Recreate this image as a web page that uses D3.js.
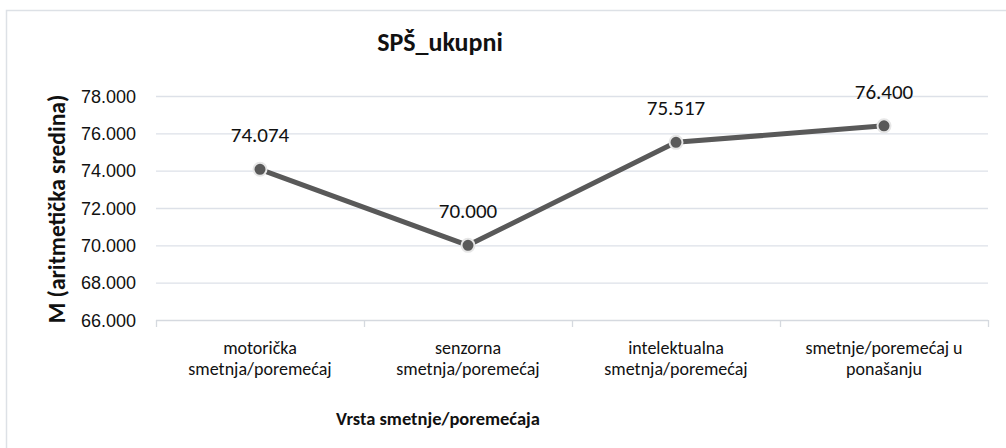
<!DOCTYPE html>
<html>
<head>
<meta charset="utf-8">
<script src="https://cdn.jsdelivr.net/npm/d3@7"></script>
<style>
  body { margin: 0; background: #fff; }
  svg { display: block; font-family: Carlito, Lato, "Open Sans", sans-serif; }
</style>
</head>
<body>
<svg id="chart" width="1006" height="448"></svg>
<script>
// chart data
var categories = ["motorička smetnja/poremećaj", "senzorna smetnja/poremećaj", "intelektualna smetnja/poremećaj", "smetnje/poremećaj u ponašanju"];
// how the x labels wrap in the picture
var categoryLines = [["motorička", "smetnja/poremećaj"], ["senzorna", "smetnja/poremećaj"], ["intelektualna", "smetnja/poremećaj"], ["smetnje/poremećaj u", "ponašanju"]];
var values = [74.074, 70.000, 75.517, 76.400];
var yTicks = [66, 68, 70, 72, 74, 76, 78];

var chartTitle = "SPŠ_ukupni";
var xTitle = "Vrsta smetnje/poremećaja";
var yTitle = "M (aritmetička sredina)";

var svg = d3.select("#chart");

// outer frame
svg.append("rect")
    .attr("x", 6.5).attr("y", 10.5)
    .attr("width", 1010).attr("height", 440)
    .attr("fill", "none")
    .attr("stroke", "#dde1e6")
    .attr("stroke-width", 1.5);

// plot area edges (named so they don't clash with window.top)
var plotLeft = 156, plotRight = 988, plotTop = 96, plotBottom = 320;

var x = d3.scaleBand().domain(categories).range([plotLeft, plotRight]);
var y = d3.scaleLinear().domain([66, 78]).range([plotBottom, plotTop]);

// gridlines
svg.append("g")
    .selectAll("line")
    .data(yTicks.slice(1))
    .enter()
    .append("line")
    .attr("x1", plotLeft).attr("x2", plotRight)
    .attr("y1", function (d) { return y(d) + 0.5; })
    .attr("y2", function (d) { return y(d) + 0.5; })
    .attr("stroke", "#dde1e8")
    .attr("stroke-width", 1.3);

// y axis labels
var yAxis = d3.axisLeft(y).tickValues(yTicks).tickSize(0).tickPadding(20).tickFormat(d3.format(".3f"));
var yg = svg.append("g").attr("transform", "translate(" + plotLeft + ",0)").call(yAxis);
yg.select(".domain").remove();
yg.selectAll("text").attr("font-size", 18).attr("font-family", null).attr("fill", "#111").attr("dy", "0.35em");

// x axis line with ticks on band edges
svg.append("line")
    .attr("x1", plotLeft).attr("x2", plotRight)
    .attr("y1", plotBottom + 0.5).attr("y2", plotBottom + 0.5)
    .attr("stroke", "#d5d9df").attr("stroke-width", 1.3);
var edges = categories.map(function (c) { return x(c); }).concat([plotRight]);
svg.append("g").selectAll("line")
    .data(edges)
    .enter()
    .append("line")
    .attr("x1", function (d) { return d + 0.5; })
    .attr("x2", function (d) { return d + 0.5; })
    .attr("y1", plotBottom).attr("y2", plotBottom + 7)
    .attr("stroke", "#d5d9df").attr("stroke-width", 1.3);

// x labels, two lines each
var xl = svg.append("g").selectAll("text")
    .data(categories)
    .enter()
    .append("text")
    .attr("text-anchor", "middle")
    .attr("font-size", 18)
    .attr("fill", "#111")
    .attr("x", function (d) { return x(d) + x.bandwidth() / 2; })
    .attr("y", 354);
xl.each(function (d, i) {
    var t = d3.select(this);
    categoryLines[i].forEach(function (line, k) {
        t.append("tspan")
            .attr("x", x(d) + x.bandwidth() / 2)
            .attr("dy", k === 0 ? 0 : 20.5)
            .text(line);
    });
});

// line
var line = d3.line()
    .x(function (d, i) { return x(categories[i]) + x.bandwidth() / 2; })
    .y(function (d) { return y(d); });

svg.append("path")
    .datum(values)
    .attr("d", line)
    .attr("fill", "none")
    .attr("stroke", "#595959")
    .attr("stroke-width", 5)
    .attr("stroke-linejoin", "round");

// markers
svg.append("g").selectAll("circle")
    .data(values)
    .enter()
    .append("circle")
    .attr("cx", function (d, i) { return x(categories[i]) + x.bandwidth() / 2; })
    .attr("cy", function (d) { return y(d); })
    .attr("r", 6.5)
    .attr("fill", "#595959")
    .attr("stroke", "#e6e6e6")
    .attr("stroke-width", 2);

// data labels
svg.append("g").selectAll("text")
    .data(values)
    .enter()
    .append("text")
    .attr("text-anchor", "middle")
    .attr("font-size", 21)
    .attr("fill", "#111")
    .attr("x", function (d, i) { return x(categories[i]) + x.bandwidth() / 2; })
    .attr("y", function (d) { return y(d) - 27; })
    .text(function (d) { return d3.format(".3f")(d); });

// titles
svg.append("text")
    .attr("x", 440).attr("y", 51)
    .attr("text-anchor", "middle")
    .attr("font-size", 26)
    .attr("font-weight", "bold")
    .attr("fill", "#111")
    .text(chartTitle);

svg.append("text")
    .attr("x", 438).attr("y", 425)
    .attr("text-anchor", "middle")
    .attr("font-size", 18.5)
    .attr("font-weight", "bold")
    .attr("fill", "#111")
    .text(xTitle);

svg.append("text")
    .attr("transform", "translate(65,209) rotate(-90)")
    .attr("text-anchor", "middle")
    .attr("font-size", 23.5)
    .attr("font-weight", "bold")
    .attr("fill", "#111")
    .text(yTitle);
</script>
</body>
</html>
